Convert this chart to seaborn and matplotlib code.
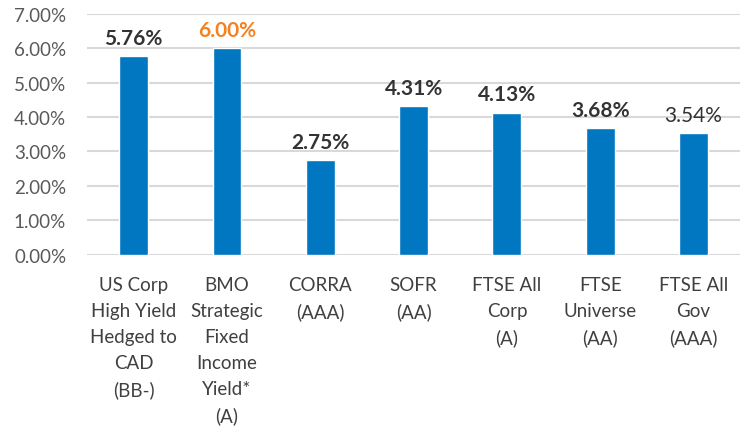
import numpy as np
import pandas as pd
import matplotlib
matplotlib.use('Agg')
import matplotlib.pyplot as plt
import seaborn as sns

# ── dados ─────────────────────────────────────────────────────────────────────
categorias = [
    'US Corp\nHigh Yield\nHedged to\nCAD\n(BB-)',
    'BMO\nStrategic\nFixed\nIncome\nYield*\n(A)',
    'CORRA\n(AAA)',
    'SOFR\n(AA)',
    'FTSE All\nCorp\n(A)',
    'FTSE\nUniverse\n(AA)',
    'FTSE All\nGov\n(AAA)',
]
rendimentos = [5.76, 6.00, 2.75, 4.31, 4.13, 3.68, 3.54]
rotulos = ['5.76%', '6.00%', '2.75%', '4.31%', '4.13%', '3.68%', '3.54%']
yticks = [0, 1, 2, 3, 4, 5, 6, 7]

df = pd.DataFrame({'cat': categorias, 'val': rendimentos})

sns.set_style('white')
plt.rcParams['font.family'] = ['Lato', 'DejaVu Sans']

fig = plt.figure(figsize=(7.5, 4.35), dpi=100)
ax = fig.add_axes([0.116, 0.412, 0.871, 0.554])

sns.barplot(data=df, x='cat', y='val', color='#0077c0', width=0.31,
            saturation=1, ax=ax, zorder=3)

ax.set_ylim(0, 7)
ax.set_xlim(-0.5, 6.5)
ax.set_yticks(yticks)
ax.set_yticklabels([f'{v:.2f}%' for v in yticks], color='#595959', fontsize=13.5)
ax.set_xticks(range(len(categorias)))
ax.set_xticklabels(categorias, color='#404040', fontsize=13.5, linespacing=1.65)
ax.tick_params(axis='both', length=0)
ax.tick_params(axis='x', pad=15)
ax.tick_params(axis='y', pad=15)
ax.set_xlabel('')
ax.set_ylabel('')
for s in ax.spines.values():
    s.set_visible(False)
ax.grid(axis='y', color='#d9d9d9', linewidth=1.5, zorder=0)

# rótulos acima das barras
for i, (v, t) in enumerate(zip(rendimentos, rotulos)):
    cor = '#f58220' if i == 1 else '#333333'
    peso = 'normal' if i == 6 else 'bold'
    ax.annotate(t, (i, v), xytext=(0, 6), textcoords='offset points',
                ha='center', va='bottom', fontsize=15, color=cor,
                fontweight=peso, zorder=4)

fig.savefig('out.png', dpi=100)
